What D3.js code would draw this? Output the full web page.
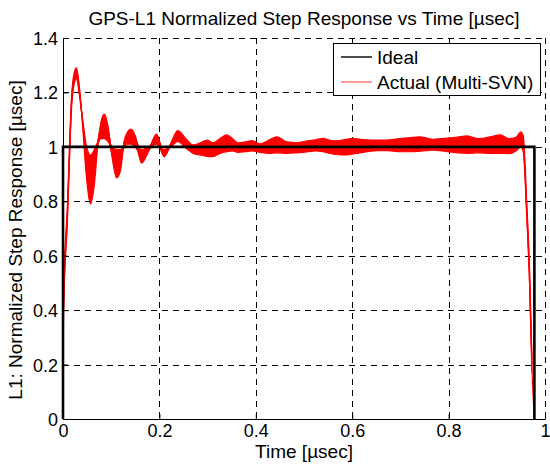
<!DOCTYPE html>
<html><head><meta charset="utf-8">
<script src="https://cdn.jsdelivr.net/npm/d3@7"></script>
<style>html,body{margin:0;padding:0;background:#fff}svg{display:block}text{font-family:"Liberation Sans",Arial,sans-serif}</style>
</head><body>
<svg id="c" width="550" height="464"></svg>
<script>
const titleText = "GPS-L1 Normalized Step Response vs Time [\u00b5sec]";
const xLabel = "Time [\u00b5sec]";
const yLabel = "L1: Normalized Step Response [\u00b5sec]";
const xTicks = [0, 0.2, 0.4, 0.6, 0.8, 1];
const yTicks = [0, 0.2, 0.4, 0.6, 0.8, 1, 1.2, 1.4];
const legendLabels = ["Ideal", "Actual (Multi-SVN)"];

const idealTime = [0, 0, 0.978, 0.978];
const idealValue = [0, 1, 1, 0];

const times = [0, 0.001, 0.009, 0.018, 0.023, 0.028, 0.034, 0.041, 0.048, 0.057,
  0.065, 0.073, 0.080, 0.086, 0.093, 0.102, 0.111, 0.119, 0.127, 0.134,
  0.141, 0.150, 0.163, 0.178, 0.194, 0.210, 0.224, 0.238, 0.255, 0.270,
  0.285, 0.299, 0.311, 0.325, 0.340, 0.352, 0.363, 0.378, 0.392, 0.409,
  0.427, 0.444, 0.465, 0.485, 0.508, 0.524, 0.539, 0.554, 0.568, 0.585,
  0.602, 0.617, 0.631, 0.652, 0.672, 0.686, 0.699, 0.720, 0.741, 0.755,
  0.768, 0.783, 0.797, 0.818, 0.838, 0.852, 0.865, 0.886, 0.907, 0.925,
  0.940, 0.950, 0.955, 0.962, 0.968, 0.973, 0.978];

const svnA = [0, 0.45, 0.78, 1.19, 1.27, 1.29, 1.22, 1.07, 0.90, 0.79,
  0.86, 1.02, 1.10, 1.12, 1.08, 0.96, 0.886, 0.91, 1.02, 1.055,
  1.065, 1.04, 0.94, 0.985, 1.047, 0.963, 1.015, 1.06, 1.03, 1.007,
  1.015, 1.025, 1.015, 1.03, 1.044, 1.03, 1.015, 1.018, 1.023, 1.011,
  1.025, 1.037, 1.018, 1.015, 1.022, 1.026, 1.031, 1.024, 1.022, 1.027,
  1.031, 1.028, 1.026, 1.025, 1.025, 1.028, 1.030, 1.034, 1.037, 1.032,
  1.028, 1.030, 1.032, 1.036, 1.040, 1.034, 1.030, 1.037, 1.044, 1.030,
  1.035, 1.055, 1.04, 0.80, 0.55, 0.22, null];
const svnB = [0, 0.40, 0.74, 1.16, 1.24, 1.26, 1.20, 1.10, 1.01, 0.97,
  0.99, 1.02, 1.03, 1.03, 1.02, 1.00, 0.99, 0.99, 1.00, 1.01,
  1.01, 1.00, 0.99, 1.00, 1.01, 0.99, 1.00, 1.02, 0.995, 0.976,
  0.970, 0.965, 0.964, 0.975, 0.982, 0.985, 0.980, 0.982, 0.985, 0.980,
  0.976, 0.978, 0.976, 0.978, 0.982, 0.985, 0.982, 0.976, 0.972, 0.970,
  0.974, 0.978, 0.982, 0.986, 0.986, 0.984, 0.982, 0.982, 0.984, 0.986,
  0.988, 0.986, 0.982, 0.978, 0.976, 0.977, 0.978, 0.976, 0.976, 0.975,
  0.985, 1.00, 0.98, 0.75, 0.50, 0.17, null];
const svnC = [0, 0.42, 0.76, 1.18, 1.26, 1.28, 1.21, 1.08, 0.95, 0.86,
  0.91, 1.03, 1.08, 1.10, 1.07, 0.97, 0.90, 0.93, 1.02, 1.05,
  1.06, 1.035, 0.95, 0.99, 1.045, 0.97, 1.01, 1.055, 1.02, 0.99,
  0.995, 1.00, 0.995, 1.01, 1.02, 1.01, 0.995, 1.00, 1.005, 0.995,
  1.005, 1.015, 1.00, 0.998, 1.005, 1.008, 1.012, 1.005, 1.00, 1.003,
  1.008, 1.006, 1.006, 1.007, 1.006, 1.008, 1.008, 1.010, 1.013, 1.010,
  1.008, 1.008, 1.010, 1.010, 1.012, 1.008, 1.005, 1.008, 1.012, 1.005,
  1.01, 1.03, 1.01, 0.78, 0.53, 0.20, null];
const svnD = [0, 0.38, 0.72, 1.15, 1.23, 1.25, 1.19, 1.09, 0.98, 0.92,
  0.95, 1.01, 1.05, 1.06, 1.04, 0.99, 0.95, 0.96, 1.00, 1.03,
  1.03, 1.00, 0.975, 0.995, 1.02, 0.985, 1.00, 1.03, 1.00, 0.985,
  0.985, 0.98, 0.975, 0.99, 1.00, 0.995, 0.99, 0.99, 0.995, 0.985,
  0.99, 0.995, 0.985, 0.985, 0.99, 0.995, 0.995, 0.99, 0.985, 0.985,
  0.99, 0.99, 0.995, 0.995, 0.995, 0.995, 0.995, 0.995, 0.998, 0.998,
  0.998, 0.996, 0.995, 0.992, 0.99, 0.99, 0.99, 0.99, 0.992, 0.99,
  1.00, 1.02, 1.00, 0.76, 0.50, 0.18, 0];
const svnSeries = [svnA, svnB, svnC, svnD];

const svg = d3.select("#c");
const x = d3.scaleLinear().domain([0, 1]).range([63, 545]);
const y = d3.scaleLinear().domain([0, 1.4]).range([419, 38]);

// grid
const grid = svg.append("g").attr("stroke", "#000").attr("stroke-width", 1)
  .attr("stroke-dasharray", "6,5").attr("fill", "none").attr("shape-rendering", "crispEdges");
yTicks.filter(v => v > 0).forEach(v => {
  grid.append("line").attr("x1", x(0)).attr("x2", x(1)).attr("y1", Math.round(y(v)) + 0.5).attr("y2", Math.round(y(v)) + 0.5);
});
xTicks.filter(v => v > 0).forEach(v => {
  grid.append("line").attr("y1", y(1.4)).attr("y2", y(0)).attr("x1", Math.round(x(v)) + 0.5).attr("x2", Math.round(x(v)) + 0.5);
});

// band between the min and max of the traces
const band = times.map((t, i) => {
  const vals = svnSeries.map(s => s[i]).filter(v => v != null);
  return {t, lo: d3.min(vals), hi: d3.max(vals)};
}).filter((d, i) => i < times.length - 1);
svg.append("path").datum(band)
  .attr("fill", "#ff0000").attr("stroke", "none")
  .attr("d", d3.area().x(d => x(d.t)).y0(d => y(d.lo)).y1(d => y(d.hi)).curve(d3.curveMonotoneX));

const line = d3.line().defined(d => d[1] != null).x(d => x(d[0])).y(d => y(d[1])).curve(d3.curveMonotoneX);
svnSeries.forEach(s => {
  svg.append("path").datum(times.map((t, i) => [t, s[i]]))
    .attr("fill", "none").attr("stroke", "#ff0000").attr("stroke-width", 1.2)
    .attr("d", line);
});

// ideal
svg.append("path").datum(idealTime.map((t, i) => [t, idealValue[i]]))
  .attr("fill", "none").attr("stroke", "#000").attr("stroke-width", 2.6)
  .attr("d", d3.line().x(d => x(d[0])).y(d => y(d[1])));

// axes
const xAxis = svg.append("g").attr("transform", `translate(0,${y(0)})`)
  .call(d3.axisBottom(x).tickValues(xTicks).tickFormat(d3.format("")).tickSizeInner(-5).tickSizeOuter(0).tickPadding(5));
const yAxis = svg.append("g").attr("transform", `translate(${x(0)},0)`)
  .call(d3.axisLeft(y).tickValues(yTicks).tickFormat(d3.format("")).tickSizeInner(-5).tickSizeOuter(0).tickPadding(5));
[xAxis, yAxis].forEach(a => {
  a.select(".domain").attr("stroke", "#000").attr("stroke-width", 1);
  a.selectAll("line").attr("stroke", "#000");
  a.selectAll("text").attr("font-size", 18).attr("fill", "#000")
    .attr("font-family", '"Liberation Sans", Arial, sans-serif');
});
xAxis.selectAll("text").attr("dy", "0.71em");
yAxis.selectAll("text").attr("dy", "0.36em");

// titles
svg.append("text").attr("x", 304).attr("y", 25).attr("text-anchor", "middle")
  .attr("font-size", 19).text(titleText);
svg.append("text").attr("x", 304).attr("y", 458).attr("text-anchor", "middle")
  .attr("font-size", 19).text(xLabel);
svg.append("text").attr("transform", "translate(22,240) rotate(-90)").attr("text-anchor", "middle")
  .attr("font-size", 19).text(yLabel);

// legend
const lg = svg.append("g");
lg.append("rect").attr("x", 333.5).attr("y", 43.5).attr("width", 207).attr("height", 52)
  .attr("fill", "#fff").attr("stroke", "#000").attr("stroke-width", 1);
const legendColors = ["#000", "#ff0000"];
const legendWidths = [1.4, 0.8];
legendLabels.forEach((lab, i) => {
  const ly = 57 + i * 25;
  lg.append("line").attr("x1", 341).attr("x2", 372).attr("y1", ly).attr("y2", ly)
    .attr("stroke", legendColors[i]).attr("stroke-width", legendWidths[i]);
  lg.append("text").attr("x", 377).attr("y", ly + 7).attr("font-size", 19).text(lab);
});
</script>
</body></html>
